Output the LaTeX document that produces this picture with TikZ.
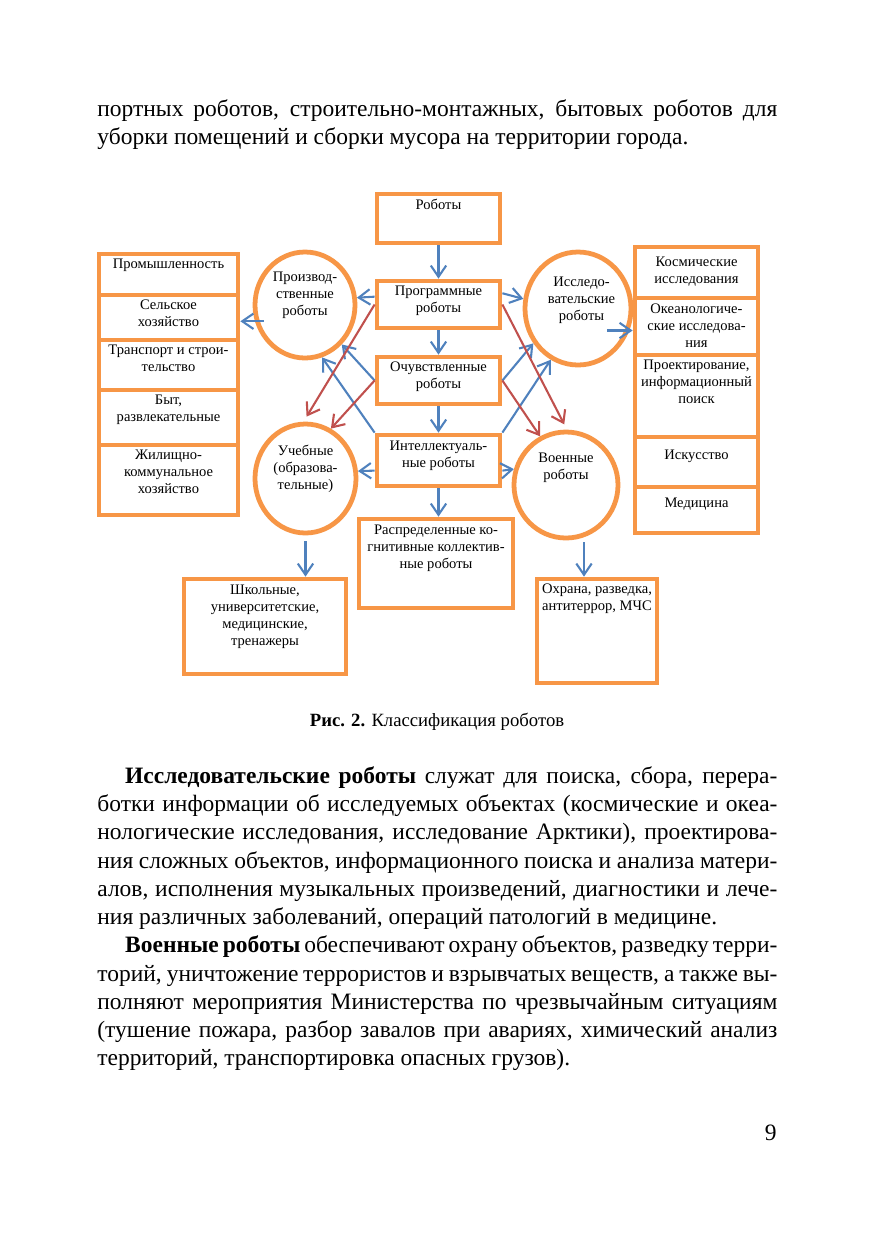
\documentclass[tikz,border=0pt]{standalone}
\usepackage{fontspec}
\setmainfont{Liberation Serif}
\usetikzlibrary{positioning,shapes.geometric,arrows.meta}

\definecolor{orng}{RGB}{247,150,70}
\definecolor{blu}{RGB}{79,129,189}
\definecolor{rd}{RGB}{192,80,77}
\newcommand\pxu{0.16914mm}
\newcommand\fullline[1]{\hbox to \hsize{#1}}
\newcommand\lastline[1]{\hbox{#1}}

\begin{document}
\begin{tikzpicture}[x=0.16914mm, y=-0.16914mm,
  obox/.style 2 args={draw=orng, line width=2.3pt, inner sep=0pt, minimum width=#1*\pxu, minimum height=#2*\pxu},
  ocirc/.style 2 args={ellipse, draw=orng, line width=2.3pt, inner sep=0pt, minimum width=#1*\pxu, minimum height=#2*\pxu},
  txt/.style={font=\fontsize{7}{8.2}\selectfont, align=center, inner sep=0pt},
  barrow/.style={draw=blu, line width=1pt, -{Straight Barb[length=1.9mm,width=2.6mm]}},
  rarrow/.style={barrow, draw=rd},
  body/.style={font=\fontsize{11.3}{13.6}\selectfont, inner sep=0pt, anchor=north west}
]
\fill[white] (0,0) rectangle (875,1241);
\useasboundingbox (0,0) rectangle (875,1241);

% Text above
\node[body] (intro) at (97,99) {\vbox{\hsize=115.02mm
  \fullline{портных роботов, строительно-монтажных, бытовых роботов для}
  \lastline{уборки помещений и сборки мусора на территории города.}}};

% Middle column
\node[obox={123}{49}] (robots) at (438.5,218.5) {};
\node[obox={123}{47}] (prog) at (438.5,304.5) {};
\node[obox={123}{47}] (ochuv) at (438.5,380.5) {};
\node[obox={123}{51}] (intel) at (438.5,460.5) {};
\node[obox={154}{89}] (raspr) at (436,563.5) {};
\node[txt, below=1.2mm of robots.north] (robotsT) {Роботы};
\node[txt, below=1.2mm of prog.north] (progT) {Программные\\роботы};
\node[txt, below=1.1mm of ochuv.north] (ochuvT) {Очувствленные\\роботы};
\node[txt, below=1.3mm of intel.north] (intelT) {Интеллектуаль-\\ные роботы};
\node[txt, below=1.3mm of raspr.north] (rasprT) {Распределенные ко-\\гнитивные коллектив-\\ные роботы};

% Circles
\node[ocirc={100}{106}] (proizv) at (305,305) {};
\node[ocirc={106}{113}] (issled) at (578,308.5) {};
\node[ocirc={101}{109}] (ucheb) at (305.5,478.5) {};
\node[ocirc={104}{106}] (voen) at (566,485) {};
\node[txt, below=3.7mm of proizv.north] (proizvT) {Производ-\\ственные\\роботы};
\node[txt, below=4.6mm of issled.north, xshift=0.6mm] (issledT) {Исследо-\\вательские\\роботы};
\node[txt, below=3.9mm of ucheb.north] (uchebT) {Учебные\\(образова-\\тельные)};
\node[txt, below=3.9mm of voen.north] (voenT) {Военные\\роботы};

% Left column
\node[obox={139}{41}] (prom) at (168.5,274.5) {};
\node[obox={139}{45}] (sel) at (168.5,317.5) {};
\node[obox={139}{50}] (trans) at (168.5,365) {};
\node[obox={139}{55}] (byt) at (168.5,417.5) {};
\node[obox={139}{70}] (zhil) at (168.5,480) {};
\node[txt, below=1.2mm of prom.north] (promT) {Промышленность};
\node[txt, below=1.1mm of sel.north] (selT) {Сельское\\хозяйство};
\node[txt, below=1.2mm of trans.north] (transT) {Транспорт и строи-\\тельство};
\node[txt, below=1.2mm of byt.north] (bytT) {Быт,\\развлекательные};
\node[txt, below=1.1mm of zhil.north] (zhilT) {Жилищно-\\коммунальное\\хозяйство};

% Right column
\node[obox={123}{51}] (kosm) at (696.5,272.5) {};
\node[obox={123}{57}] (okean) at (696.5,326.5) {};
\node[obox={123}{82}] (proekt) at (696.5,396) {};
\node[obox={123}{50}] (isk) at (696.5,462) {};
\node[obox={123}{46}] (med) at (696.5,510) {};
\node[txt, below=2mm of kosm.north] (kosmT) {Космические\\исследования};
\node[txt, below=1.3mm of okean.north] (okeanT) {Океанологиче-\\ские исследова-\\ния};
\node[txt, below=1.1mm of proekt.north] (proektT) {Проектирование,\\информационный\\поиск};
\node[txt, below=2.5mm of isk.north] (iskT) {Искусство};
\node[txt, below=2.2mm of med.north] (medT) {Медицина};

% Bottom boxes
\node[obox={162}{95}] (shkol) at (265,626.5) {};
\node[obox={120}{104}] (ohrana) at (597,631) {};
\node[txt, below=1.3mm of shkol.north] (shkolT) {Школьные,\\университетские,\\медицинские,\\тренажеры};
\node[txt, below=1.2mm of ohrana.north] (ohranaT) {Охрана, разведка,\\антитеррор, МЧС};

% Straight arrows
\draw[barrow] (robots) -- (prog);
\draw[barrow] (prog) -- (ochuv);
\draw[barrow] (ochuv) -- (intel);
\draw[barrow] (intel.south) -- (intel.south |- raspr.north);
\draw[barrow] (prog.173) -- (proizv.8);
\draw[barrow] (prog.10) -- (issled.170);
\draw[barrow] (intel.189) -- (ucheb.8);
\draw[barrow] (intel.351) -- (voen.163);
\draw[barrow] (proizv.198) ++(9,0) coordinate (pz) -- (pz -| sel.east);
\draw[barrow] (issled.center) ++(29,22) coordinate (is) -- (is -| okean.west);
\draw[barrow] ([yshift=-1mm]ucheb.south) -- (ucheb.south |- shkol.north);
\draw[barrow] (voen.south) ++(18,2) coordinate (vs) -- (vs |- ohrana.north);

% Cross arrows
\draw[barrow] (ochuv.west) -- (proizv.313);
\draw[barrow] (intel.north west) -- (proizv.288);
\draw[barrow] (ochuv.east) -- (issled.218);
\draw[barrow] (intel.north east) -- (issled.242);
\draw[rarrow, shorten >=1mm] (prog.west) -- (ucheb.92);
\draw[rarrow] (ochuv.west) -- (ucheb.63);
\draw[rarrow, shorten >=1mm] (prog.east) -- (voen.89);
\draw[rarrow] (ochuv.east) -- (voen.118);

% Caption and text below
\node[font=\fontsize{9}{11}\selectfont, inner sep=0pt] (caption) at (437,722) {\textbf{Рис. 2.} Классификация роботов};
\node[body] (paras) at (97,766) {\vbox{\hsize=115.02mm
  \fullline{\hskip4.7mm\textbf{Исследовательские роботы} служат для поиска, сбора, перера-}
  \fullline{ботки информации об исследуемых объектах (космические и океа-}
  \fullline{нологические исследования, исследование Арктики), проектирова-}
  \fullline{ния сложных объектов, информационного поиска и анализа матери-}
  \fullline{алов, исполнения музыкальных произведений, диагностики и лече-}
  \lastline{ния различных заболеваний, операций патологий в медицине.}
  \fullline{\hskip4.7mm\textbf{Военные роботы} обеспечивают охрану объектов, разведку терри-}
  \fullline{торий, уничтожение террористов и взрывчатых веществ, а также вы-}
  \fullline{полняют мероприятия Министерства по чрезвычайным ситуациям}
  \fullline{(тушение пожара, разбор завалов при авариях, химический анализ}
  \lastline{территорий, транспортировка опасных грузов).}}};
\node[font=\fontsize{11.3}{13.6}\selectfont, inner sep=0pt, anchor=east] (pagenum) at (777,1133) {9};
\end{tikzpicture}
\end{document}
